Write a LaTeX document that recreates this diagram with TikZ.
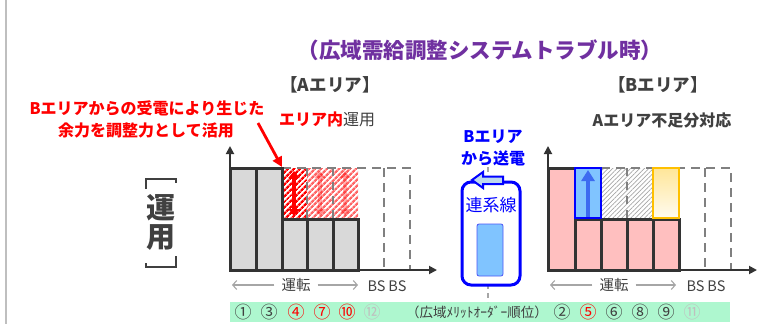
\documentclass[tikz,border=0pt]{standalone}
\usepackage{fontspec}
\setmainfont{Noto Sans CJK JP}
\usetikzlibrary{arrows.meta,patterns.meta}
\definecolor{dk}{HTML}{404040}
\definecolor{barline}{HTML}{333333}
\definecolor{bargray}{HTML}{D9D9D9}
\definecolor{pinkbar}{HTML}{FFBFBF}
\definecolor{purp}{HTML}{7030A0}
\definecolor{bandgreen}{HTML}{AEF7CF}
\definecolor{dashgray}{HTML}{808080}
\definecolor{lgray}{HTML}{BFBFBF}
\definecolor{axgray}{HTML}{A6A6A6}
\definecolor{ltblue}{HTML}{80C4FF}
\definecolor{boxblue}{HTML}{0000FF}
\definecolor{arrblue}{HTML}{3D6BF0}
\definecolor{orng}{HTML}{FFC000}
\definecolor{yel}{HTML}{FFE699}
\definecolor{pale}{HTML}{BDD7EE}
\begin{document}
\begin{tikzpicture}[x=1pt,y=-1pt,
  txt/.style={inner sep=0pt, anchor=center},
  bar/.style={draw=barline, line width=3pt},
  bsbox/.style={draw=dashgray, line width=2.8pt, dash pattern=on 9pt off 6pt},
  axis/.style={draw=barline, line width=1.8pt, -{Triangle[length=8pt,width=8pt]}},
  runarrow/.style={draw=axgray, line width=1.1pt, -{Straight Barb[length=4pt,width=9pt]}},
  circ/.style={txt, font=\fontsize{13.5}{14}\selectfont, text=dk},
  cnum/.style={txt, font=\fontsize{17}{18}\selectfont, text=dk}
]
\useasboundingbox (0,0) rectangle (770,324);

% left border line
\draw[lgray, line width=1.5pt] (6,0) -- (6,324);

% title and headings
\node[txt, text=purp, font=\fontsize{21.5}{24}\bfseries\selectfont] (title) at (480,50) {（広域需給調整システムトラブル時）};
\node[txt, text=dk, font=\fontsize{17.5}{20}\bfseries\selectfont] (ha) at (330,85) {【Aエリア】};
\node[txt, text=dk, font=\fontsize{17.5}{20}\bfseries\selectfont] (hb) at (658,85) {【Bエリア】};
\node[txt, text=red, font=\fontsize{16}{18}\bfseries\selectfont] (r1) at (147,108) {Bエリアからの受電により生じた};
\node[txt, text=red, font=\fontsize{16}{18}\bfseries\selectfont] (r2) at (146,130) {余力を調整力として活用};
\node[txt, font=\fontsize{16}{18}\selectfont] (ina) at (327,119) {\textcolor{red}{\bfseries エリア内}\textcolor{dk}{運用}};
\node[txt, text=dk, font=\fontsize{16}{18}\bfseries\selectfont] (inb) at (662,120) {Aエリア不足分対応};

% vertical label
\node[txt, text=dk, font=\fontsize{29}{30}\bfseries\selectfont] (un) at (161,208) {運};
\node[txt, text=dk, font=\fontsize{29}{30}\bfseries\selectfont] (yo) at (161,238) {用};
\draw[dk, line width=2pt] (146,189) -- (146,179) -- (176,179) -- (176,183);
\draw[dk, line width=2pt] (146,263) -- (146,267) -- (176,267) -- (176,256);

% green band
\fill[bandgreen] (230,302) rectangle (730,322);

% ===== A area chart =====
\fill[pattern={Lines[angle=45,distance=4pt,line width=2.5pt]}, pattern color=red] (282,168) rectangle (307,219);
\fill[pattern={Lines[angle=45,distance=4pt,line width=2.5pt]}, pattern color=red!60] (307,168) rectangle (358,219);
\draw[red, opacity=0.3, line width=3.5pt, {Triangle[length=7pt,width=11pt]}-{Triangle[length=7pt,width=11pt]}] (320,171) -- (320,216);
\draw[red, opacity=0.3, line width=3.5pt, {Triangle[length=7pt,width=11pt]}-{Triangle[length=7pt,width=11pt]}] (345,171) -- (345,216);
\draw[dashgray, line width=1.5pt, dash pattern=on 8pt off 6pt] (307,168) -- (307,219) (333,168) -- (333,219);
\draw[bsbox] (282,168) -- (410,168) -- (410,270);
\draw[bsbox] (384,168) -- (384,270);
\draw[bar, fill=bargray] (230,168) rectangle (256,270);
\draw[bar, fill=bargray] (256,168) rectangle (282,270);
\draw[bar, fill=bargray] (282,219) rectangle (307,270);
\draw[bar, fill=bargray] (307,219) rectangle (333,270);
\draw[bar, fill=bargray] (333,219) rectangle (358,270);
\draw[red, line width=3.5pt, {Triangle[length=7pt,width=11pt]}-{Triangle[length=7pt,width=11pt]}] (294,171) -- (294,216);
\coordinate (ao) at (230,270);
\coordinate (ay) at (230,146);
\coordinate (ax) at (437,270);
\draw[axis] (ao) -- (ay);
\draw[axis] (ao) -- (ax);

% annotation arrow
\coordinate (ann0) at (258,123);
\coordinate (ann1) at (282,167);
\draw[red, line width=2.8pt, -{Triangle[length=10pt,width=10pt]}] (ann0) -- (ann1);

% A axis label
\node[txt, text=dk, font=\fontsize{14.5}{16}\selectfont] (runa) at (296,285) {運転};
\coordinate (runaL) at (232,285);
\coordinate (runaR) at (358,285);
\draw[runarrow] ([xshift=-7pt]runa.west) -- (runaL);
\draw[runarrow] ([xshift=7pt]runa.east) -- (runaR);
\node[txt, text=dk, font=\fontsize{14.5}{16}\selectfont] (bsa) at (387,286) {BS\hspace{3pt}BS};

% ===== B area chart =====
\fill[pattern={Lines[angle=45,distance=3.2pt,line width=0.7pt]}, pattern color=gray!70] (601,168) rectangle (653,219);
\draw[dashgray, line width=1.5pt, dash pattern=on 8pt off 6pt] (627,168) -- (627,219);
\draw[bsbox] (601,168) -- (731,168) -- (731,270);
\draw[bsbox] (705,168) -- (705,270);
\draw[bar, fill=pinkbar] (548,168) rectangle (575,270);
\draw[bar, fill=pinkbar] (575,219) rectangle (601,270);
\draw[bar, fill=pinkbar] (601,219) rectangle (627,270);
\draw[bar, fill=pinkbar] (627,219) rectangle (653,270);
\draw[bar, fill=pinkbar] (653,219) rectangle (679,270);
\draw[boxblue, line width=2.6pt, fill=ltblue] (575,168) rectangle (601,218);
\draw[arrblue, line width=4.5pt, -{Triangle[length=11pt,width=13pt]}] (588,217) -- (588,170);
\shade[top color=yel, bottom color=yel!15] (653,168) rectangle (679,218);
\draw[orng, line width=2.6pt] (653,168) rectangle (679,218);
\coordinate (bo) at (548,270);
\coordinate (by) at (548,146);
\coordinate (bx) at (757,270);
\draw[axis] (bo) -- (by);
\draw[axis] (bo) -- (bx);

% B axis label
\node[txt, text=dk, font=\fontsize{14.5}{16}\selectfont] (runb) at (614,285) {運転};
\coordinate (runbL) at (550,285);
\coordinate (runbR) at (676,285);
\draw[runarrow] ([xshift=-7pt]runb.west) -- (runbL);
\draw[runarrow] ([xshift=7pt]runb.east) -- (runbR);
\node[txt, text=dk, font=\fontsize{14.5}{16}\selectfont] (bsb) at (706,286) {BS\hspace{3pt}BS};

% ===== interconnection =====
\node[txt, text=boxblue, font=\fontsize{16}{18}\bfseries\selectfont] (se1) at (493,137) {Bエリア};
\node[txt, text=boxblue, font=\fontsize{16}{18}\bfseries\selectfont] (se2) at (493,158) {から送電};
\coordinate (dl0) at (488,167);
\coordinate (dl1) at (488,302);
\draw[axgray, line width=1.2pt, dash pattern=on 5pt off 4pt] (dl0) -- (dl1);
\draw[boxblue, line width=3pt, fill=white, rounded corners=9pt] (462,182) rectangle (520,285);
\node[txt, text=boxblue, font=\fontsize{17}{18}\selectfont] (tielbl) at (491,205) {連系線};
\draw[draw=boxblue!60!pale, line width=0.8pt, fill=ltblue, rounded corners=2pt] (477,224) rectangle (503,276);
\draw[boxblue, line width=2pt, fill=pale, line join=miter]
  (472,180) -- (483,172) -- (483,176.5) -- (503,176.5) -- (503,184) -- (483,184) -- (483,188) -- cycle;

% ===== band numbers =====
\node[cnum] (a1) at (243,312) {①};
\node[cnum] (a3) at (269,312) {③};
\node[cnum, text=red] (a4) at (296,312) {④};
\node[cnum, text=red] (a7) at (322,312) {⑦};
\node[cnum, text=red] (a10) at (347,312) {⑩};
\node[cnum, text=lgray] (a12) at (372,312) {⑫};
\node[circ] (order) at (477,312) {（広域ﾒﾘｯﾄｵｰﾀﾞｰ順位）};
\node[cnum] (b2) at (562,312) {②};
\node[cnum, text=red] (b5) at (588,312) {⑤};
\node[cnum] (b6) at (614,312) {⑥};
\node[cnum] (b8) at (640,312) {⑧};
\node[cnum] (b9) at (666,312) {⑨};
\node[cnum, text=lgray] (b11) at (692,312) {⑪};
\end{tikzpicture}
\end{document}
